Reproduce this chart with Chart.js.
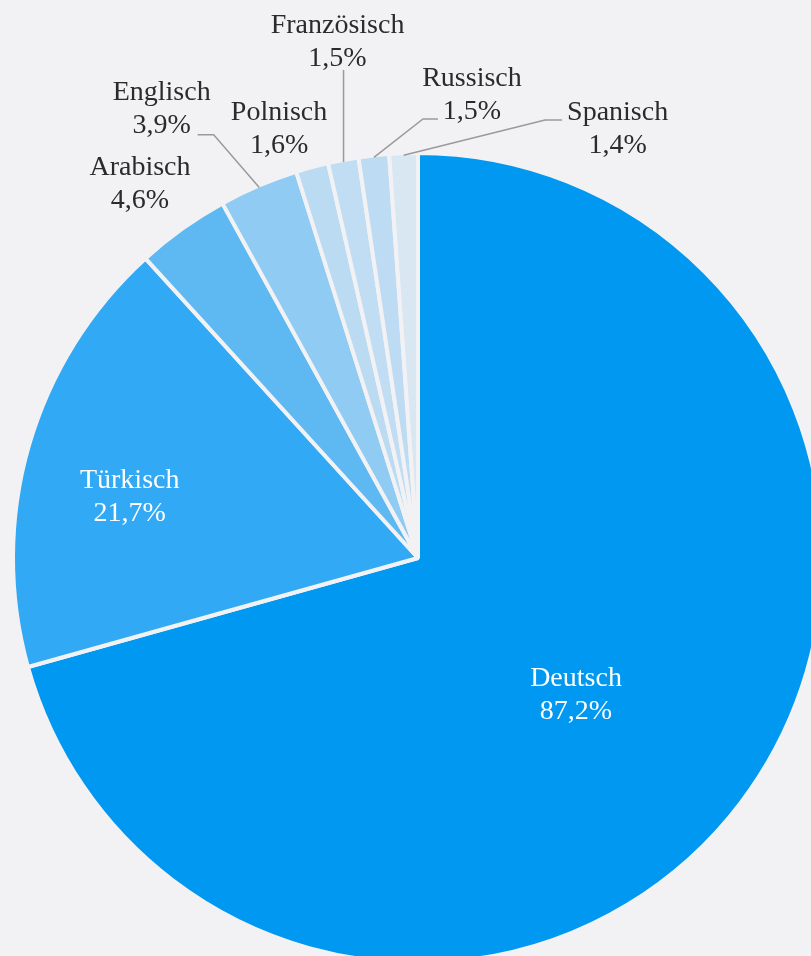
<!DOCTYPE html>
<html>
<head>
<meta charset="utf-8">
<script src="https://cdn.jsdelivr.net/npm/chart.js@4"></script>
<style>
  html, body { margin: 0; padding: 0; background: #f2f2f4; overflow: hidden; }
  #wrap { position: absolute; left: 0; top: 0; }
</style>
</head>
<body>
<div id="wrap"><canvas id="pie" width="836" height="984"></canvas></div>
<script>
// Sprachen (Mehrfachnennungen, Anteile in %)
const sprachen = ['Deutsch', 'Türkisch', 'Arabisch', 'Englisch', 'Polnisch', 'Französisch', 'Russisch', 'Spanisch'];
const anteile = [87.2, 21.7, 4.6, 3.9, 1.6, 1.5, 1.5, 1.4];
const farben = ['#0098f1', '#31a9f4', '#5eb9f2', '#8fcbf3', '#bbdbf3', '#c0ddf3', '#bddbf3', '#d9e7f3'];

// label placement, offsets from the outer middle of each slice
const labelOffset = [[-163, -116], [99, 41], [-43.5, -55], [-97.6, -87.7], [-33.5, -49], [-6, -129], [98, -71], [214, -35]];
const labelInside = [true, true, false, false, false, false, false, false];
// leader lines: points relative to the same slice midpoint
const leader = [null, null, null, [[-45.6, -52.7], [-61.6, -52.7]], null, [[0, -92]], [[49, -38.4], [64, -38.4]], [[141.4, -35.3], [158.4, -35.3]]];

const fmt = v => v.toFixed(1).replace('.', ',') + '%';

const labelPlugin = {
    id: 'pieLabels',
    afterDatasetsDraw(chart) {
        const ctx = chart.ctx;
        const meta = chart.getDatasetMeta(0);
        ctx.save();
        ctx.font = '28px "Liberation Serif", serif';
        ctx.textAlign = 'center';
        ctx.textBaseline = 'alphabetic';
        meta.data.forEach((arc, i) => {
            const p = arc.getProps(['x', 'y', 'startAngle', 'endAngle', 'outerRadius'], true);
            const mid = (p.startAngle + p.endAngle) / 2;
            const mx = p.x + Math.cos(mid) * (p.outerRadius - 2);
            const my = p.y + Math.sin(mid) * (p.outerRadius - 2);
            if (leader[i]) {
                ctx.strokeStyle = '#9a9a9c';
                ctx.lineWidth = 1.5;
                ctx.beginPath();
                ctx.moveTo(mx, my);
                leader[i].forEach(pt => ctx.lineTo(mx + pt[0], my + pt[1]));
                ctx.stroke();
            }
            const lx = mx + labelOffset[i][0];
            const ly = my + labelOffset[i][1];
            ctx.fillStyle = labelInside[i] ? '#ffffff' : '#2b2b2b';
            ctx.fillText(sprachen[i], lx, ly);
            ctx.fillText(fmt(anteile[i]), lx, ly + 33);
        });
        ctx.restore();
    }
};

new Chart(document.getElementById('pie'), {
    type: 'pie',
    data: {
        labels: sprachen,
        datasets: [{
            data: anteile,
            backgroundColor: farben,
            borderColor: '#f2f2f4',
            borderWidth: 4
        }]
    },
    options: {
        responsive: false,
        animation: false,
        layout: { padding: { left: 11, right: 11, top: 151, bottom: 19 } },
        plugins: {
            legend: { display: false },
            tooltip: { enabled: false }
        }
    },
    plugins: [labelPlugin]
});
</script>
</body>
</html>
